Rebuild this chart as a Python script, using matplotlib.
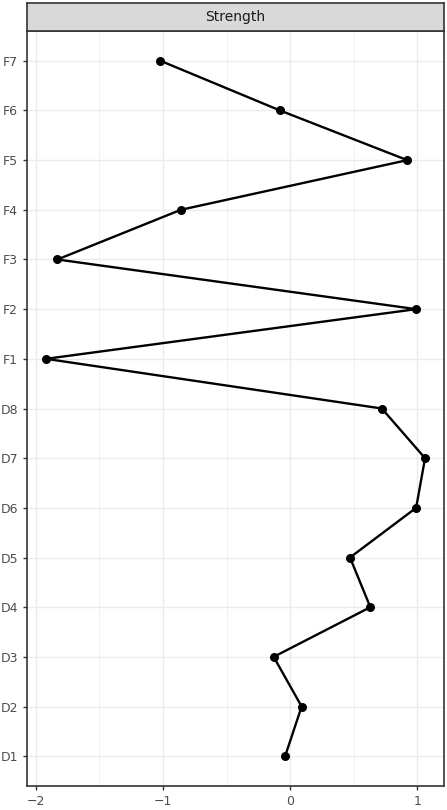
import matplotlib
matplotlib.use("Agg")
import matplotlib.pyplot as plt

# categories from bottom to top, in the order the line joins them
categories = ["D1", "D2", "D3", "D4", "D5", "D6", "D7", "D8",
              "F1", "F2", "F3", "F4", "F5", "F6", "F7"]
strength = [-0.04, 0.09, -0.13, 0.63, 0.47, 0.99, 1.06, 0.72,
            -1.92, 0.99, -1.83, -0.86, 0.92, -0.08, -1.02]
xticks = [-2, -1, 0, 1]
xminor = [-1.5, -0.5, 0.5]
panel_title = "Strength"

W, H = 447, 810
fig = plt.figure(figsize=(W / 100, H / 100), dpi=100)

left, right = 27 / W, 444 / W
top, bottom = 1 - 31 / H, 1 - 786 / H
ax = fig.add_axes([left, bottom, right - left, top - bottom])

ypos = list(range(len(categories)))
ax.plot(strength, ypos, color="black", lw=1.7, zorder=3)
ax.scatter(strength, ypos, color="black", s=30, zorder=4)

# ggplot-like 5% expansion
lo, hi = min(strength), max(strength)
pad = (hi - lo) * 0.05
ax.set_xlim(lo - pad, hi + pad)
ax.set_ylim(-0.6, len(categories) - 0.4)

ax.set_xticks(xticks)
ax.set_xticklabels(["\u22122", "\u22121", "0", "1"])
ax.set_xticks(xminor, minor=True)
ax.set_yticks(ypos)
ax.set_yticklabels(categories)

ax.grid(True, which="major", color="#EBEBEB", lw=1.0, zorder=0)
ax.grid(True, which="minor", axis="x", color="#EBEBEB", lw=0.5, zorder=0)
ax.set_axisbelow(True)
ax.tick_params(axis="both", which="major", colors="#333333", labelcolor="#4D4D4D",
               labelsize=9, length=3, width=1)
ax.tick_params(axis="both", which="minor", length=0)
for s in ax.spines.values():
    s.set_color("#333333")
    s.set_linewidth(1.2)

# facet strip
sax = fig.add_axes([left, 1 - 31 / H, right - left, 28 / H])
sax.set_xticks([])
sax.set_yticks([])
sax.set_facecolor("#D9D9D9")
for s in sax.spines.values():
    s.set_color("#333333")
    s.set_linewidth(1.2)
sax.text(0.5, 0.5, panel_title, ha="center", va="center", fontsize=10,
         color="#1A1A1A", transform=sax.transAxes)

fig.savefig("out.png", dpi=100)
